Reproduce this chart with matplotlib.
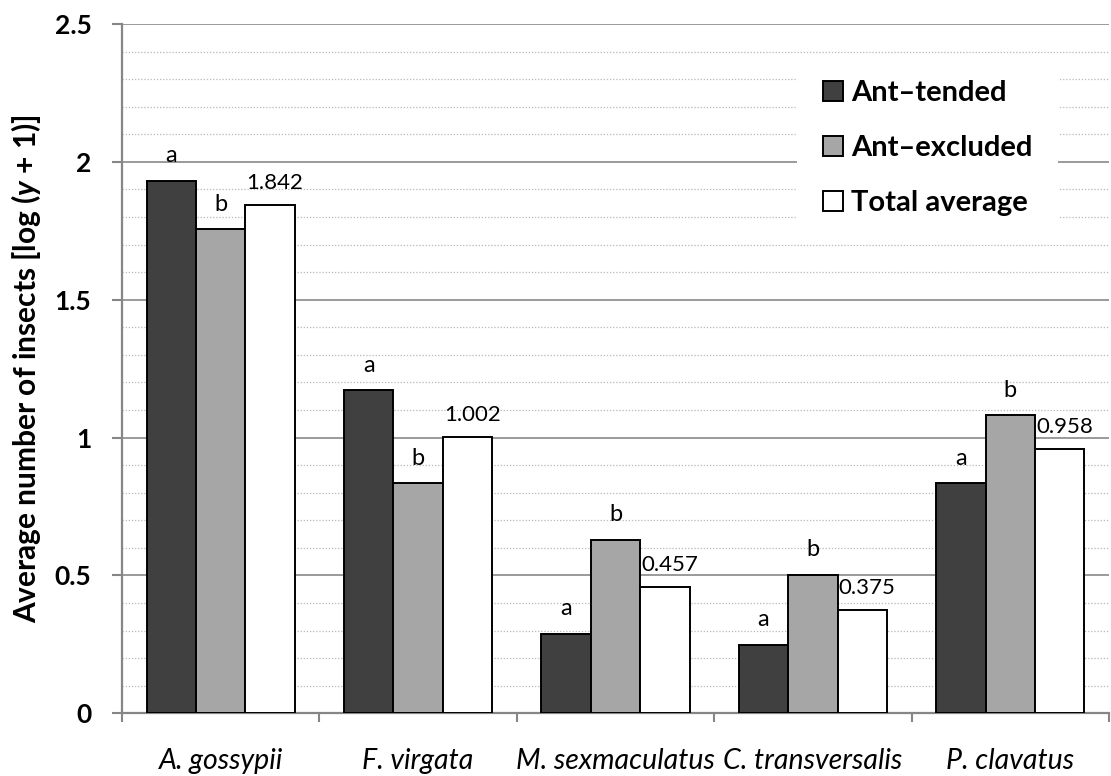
import numpy as np
import matplotlib.pyplot as plt
from matplotlib.ticker import MultipleLocator

plt.rcParams['font.family'] = ['Lato', 'DejaVu Sans']
plt.rcParams['mathtext.fontset'] = 'custom'
plt.rcParams['mathtext.bfit'] = 'Lato:italic:bold'

species = ['A. gossypii', 'F. virgata', 'M. sexmaculatus', 'C. transversalis', 'P. clavatus']
ant_tended = [1.930, 1.171, 0.287, 0.247, 0.834]
ant_excluded = [1.755, 0.834, 0.629, 0.503, 1.081]
total_avg = [1.842, 1.002, 0.457, 0.375, 0.958]
letters_tended = ['a', 'a', 'a', 'a', 'a']
letters_excluded = ['b', 'b', 'b', 'b', 'b']
ytick_vals = [0, 0.5, 1, 1.5, 2, 2.5]
ytick_text = ['0', '0.5', '1', '1.5', '2', '2.5']

fig = plt.figure(figsize=(11.11, 7.76), dpi=100)
ax = fig.add_axes([0.1098, 0.0808, 0.9982 - 0.1098, 0.969 - 0.0808])

x = np.arange(len(species)) + 0.5
w = 0.25
ax.bar(x - w, ant_tended, w, color='#404040', edgecolor='black', lw=1.4, label='Ant\u2013tended', zorder=3)
ax.bar(x, ant_excluded, w, color='#a6a6a6', edgecolor='black', lw=1.4, label='Ant\u2013excluded', zorder=3)
ax.bar(x + w, total_avg, w, color='white', edgecolor='black', lw=1.4, label='Total average', zorder=3)

# letters and values above bars
for xi, v, t in zip(x - w, ant_tended, letters_tended):
    ax.annotate(t, (xi, v), xytext=(0, 13.5), textcoords='offset points',
                ha='center', va='baseline', fontsize=17)
for xi, v, t in zip(x, ant_excluded, letters_excluded):
    ax.annotate(t, (xi, v), xytext=(0, 13.5), textcoords='offset points',
                ha='center', va='baseline', fontsize=17)
for xi, v in zip(x + w, total_avg):
    ax.annotate('%.3f' % v, (xi, v), xytext=(3.5, 11.5), textcoords='offset points',
                ha='center', va='baseline', fontsize=16)

ax.set_xlim(0, 5)
ax.set_ylim(0, 2.5)
ax.set_yticks(ytick_vals)
ax.set_yticklabels(ytick_text)
ax.yaxis.set_minor_locator(MultipleLocator(0.1))
ax.tick_params(axis='y', which='major', length=7, width=1.5, color='#868686', pad=15, labelsize=19)
ax.tick_params(axis='y', which='minor', length=0)

ax.set_xticks(np.arange(6))
ax.set_xticklabels([])
ax.set_xticks(x, minor=True)
ax.set_xticklabels(species, minor=True)
ax.tick_params(axis='x', which='major', length=6.5, width=1.5, color='#868686')
ax.tick_params(axis='x', which='minor', length=0, pad=25, labelsize=20.5)

ax.set_axisbelow(True)
ax.yaxis.grid(True, which='major', color='#9a9a9a', lw=1.4)
ax.yaxis.grid(True, which='minor', color='#b8b8b8', lw=0.9, ls=(0, (1, 1.5)))

for s in ['top', 'right']:
    ax.spines[s].set_visible(False)
for s in ['left', 'bottom']:
    ax.spines[s].set_color('#868686')
    ax.spines[s].set_linewidth(1.6)

ax.set_ylabel('Average number of insects [log ($\\mathbfit{y}$ + 1)]', fontweight='bold', fontsize=21.5, labelpad=8)

leg = ax.legend(loc='upper left', bbox_to_anchor=(0.684, 0.957), borderaxespad=0,
                prop={'weight': 'bold', 'size': 21}, frameon=True, fancybox=False,
                handlelength=0.66, handleheight=0.66, handletextpad=0.28,
                labelspacing=1.0, borderpad=0.9)
leg.get_frame().set_facecolor('white')
leg.get_frame().set_edgecolor('none')
leg.get_frame().set_alpha(1)

fig.canvas.draw()
for lab in ax.get_yticklabels():
    lab.set_fontweight('bold')
for lab in ax.get_xticklabels(minor=True):
    lab.set_fontstyle('italic')

fig.savefig('out.png', dpi=100)
